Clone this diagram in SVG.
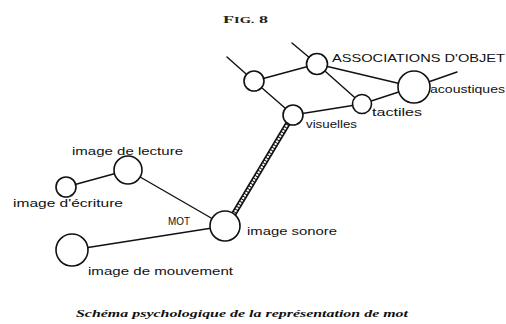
<svg xmlns="http://www.w3.org/2000/svg" width="506" height="324" viewBox="0 0 506 324">
<style>
.n{fill:#fff;stroke:#111;stroke-width:1.6}
.e{stroke:#111;stroke-width:1.4;fill:none;stroke-linecap:round}
.l{font-family:"Liberation Sans",Arial,sans-serif;font-size:10.5px;fill:#111}
.c{font-family:"Liberation Serif","Times New Roman",serif;font-style:italic;font-weight:bold;font-size:11px;fill:#111}
.f{font-family:"Liberation Serif","Times New Roman",serif;font-weight:bold;font-size:10px;fill:#222}
</style>
<rect width="506" height="324" fill="#fff"/>
<text class="f" x="223" y="23" textLength="45" lengthAdjust="spacingAndGlyphs">F<tspan font-size="8">IG.</tspan> 8</text>
<g id="connectors">
<line class="e" x1="227" y1="57" x2="254" y2="81"/>
<line class="e" x1="292" y1="43" x2="317" y2="64"/>
<line class="e" x1="254" y1="81" x2="317" y2="64"/>
<line class="e" x1="317" y1="64" x2="414" y2="87"/>
<line class="e" x1="317" y1="64" x2="362" y2="104"/>
<line class="e" x1="254" y1="81" x2="293" y2="115"/>
<line class="e" x1="293" y1="115" x2="362" y2="104"/>
<line class="e" x1="362" y1="104" x2="414" y2="87"/>
<line class="e" x1="414" y1="87" x2="457" y2="72"/>
<line x1="290" y1="120" x2="229" y2="222" stroke="#111" stroke-width="5.5"/>
<line x1="290" y1="120" x2="229" y2="222" stroke="#fff" stroke-width="2.2" stroke-dasharray="2 1"/>
<line class="e" x1="66" y1="187" x2="128" y2="170"/>
<line class="e" x1="128" y1="170" x2="225" y2="226"/>
<line class="e" x1="72" y1="250" x2="225" y2="226"/>
</g>
<g id="node-a"><circle class="n" cx="254" cy="81" r="10"/></g>
<g id="node-b"><circle class="n" cx="317" cy="64" r="10.5"/>
<text class="l" x="332" y="62" font-size="12.5" textLength="173" lengthAdjust="spacingAndGlyphs">ASSOCIATIONS D'OBJET</text></g>
<g id="node-acoustiques"><circle class="n" cx="414" cy="87" r="16"/>
<text class="l" x="430" y="93" textLength="75" lengthAdjust="spacingAndGlyphs">acoustiques</text></g>
<g id="node-tactiles"><circle class="n" cx="362" cy="104" r="9.5"/>
<text class="l" x="372" y="116" textLength="50" lengthAdjust="spacingAndGlyphs">tactiles</text></g>
<g id="node-visuelles"><circle class="n" cx="293" cy="115" r="10"/>
<text class="l" x="306" y="128" textLength="51" lengthAdjust="spacingAndGlyphs">visuelles</text></g>
<g id="node-lecture"><circle class="n" cx="128" cy="170" r="14"/>
<text class="l" x="72" y="155" textLength="111" lengthAdjust="spacingAndGlyphs">image de lecture</text></g>
<g id="node-ecriture"><circle class="n" cx="66" cy="187" r="10"/>
<text class="l" x="13" y="207" textLength="110" lengthAdjust="spacingAndGlyphs">image d'écriture</text></g>
<g id="node-sonore"><circle class="n" cx="225" cy="226" r="15"/>
<text class="l" x="168" y="225" textLength="22" lengthAdjust="spacingAndGlyphs">MOT</text>
<text class="l" x="247" y="235" textLength="90" lengthAdjust="spacingAndGlyphs">image sonore</text></g>
<g id="node-mouvement"><circle class="n" cx="72" cy="250" r="16"/>
<text class="l" x="88" y="275" textLength="145" lengthAdjust="spacingAndGlyphs">image de mouvement</text></g>
<text class="c" x="76" y="317" textLength="332" lengthAdjust="spacingAndGlyphs">Schéma psychologique de la représentation de mot</text>
</svg>
